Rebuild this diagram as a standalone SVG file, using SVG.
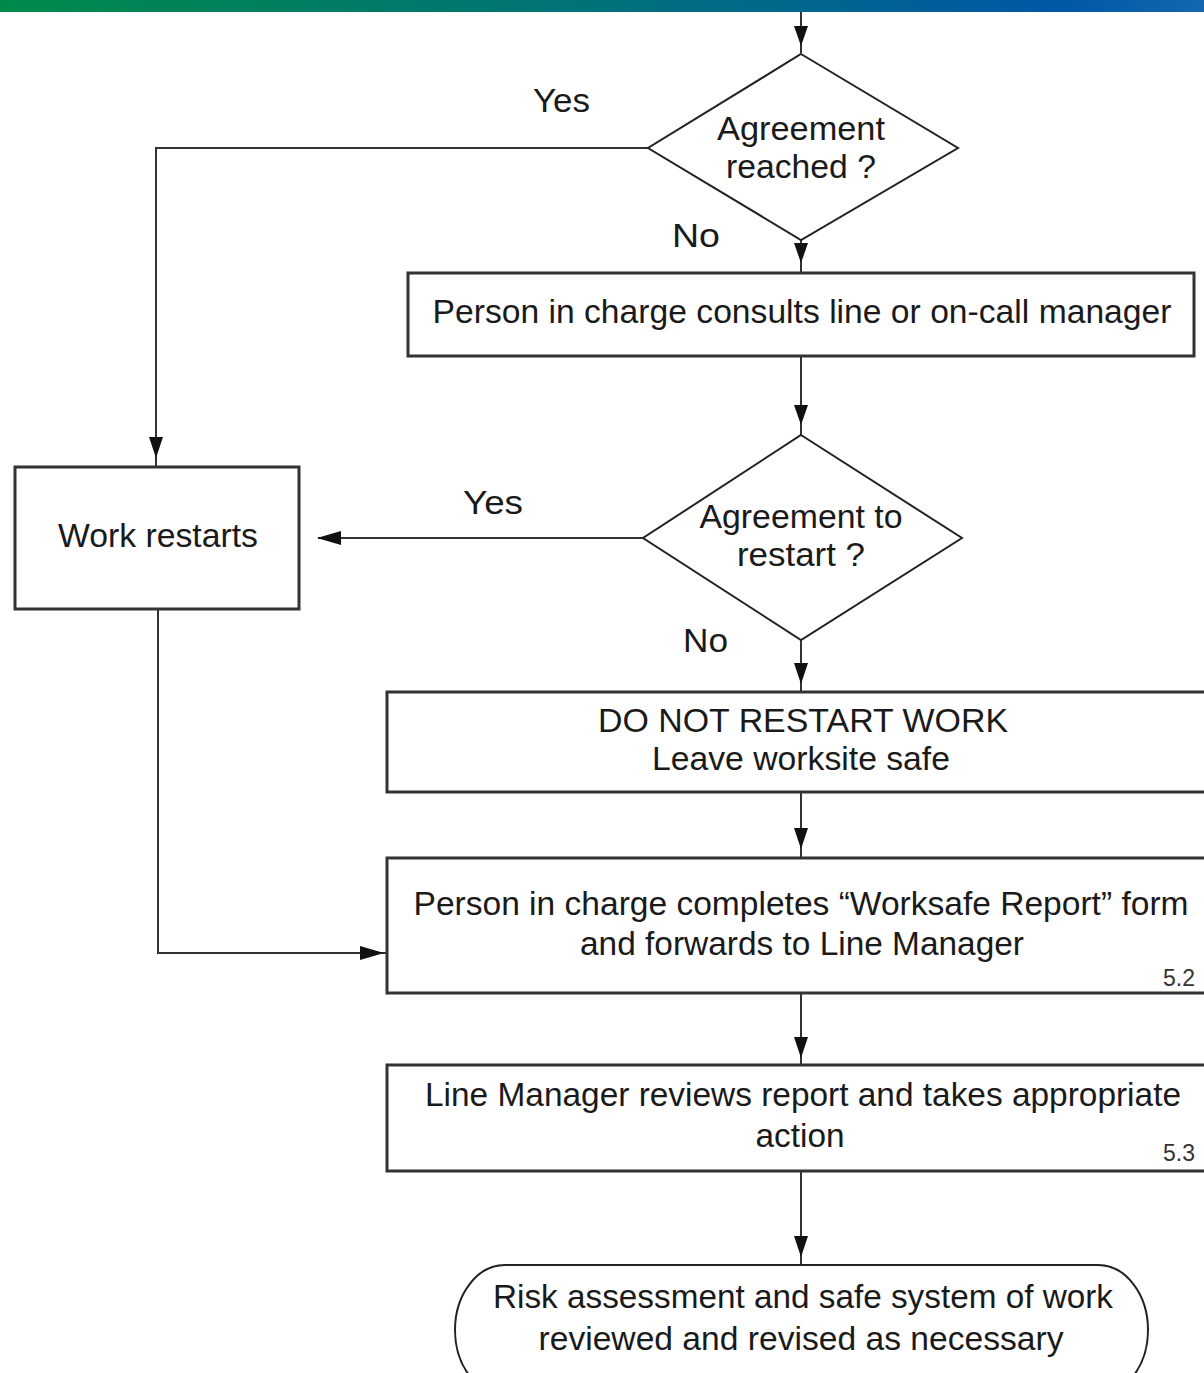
<svg xmlns="http://www.w3.org/2000/svg" width="1204" height="1373" viewBox="0 0 1204 1373">
<defs>
<linearGradient id="bar" x1="0" y1="0" x2="1" y2="0">
<stop offset="0" stop-color="#008A4A"/>
<stop offset="0.5" stop-color="#00727A"/>
<stop offset="0.88" stop-color="#0057A6"/>
<stop offset="1" stop-color="#1467B0"/>
</linearGradient>
<style>
.box{fill:#fff;stroke:#333;stroke-width:3}
.dia{fill:#fff;stroke:#222;stroke-width:2}
.ln{fill:none;stroke:#333;stroke-width:2}
.ah{fill:#111}
text{font-family:"Liberation Sans",Arial,sans-serif;font-size:33px;fill:#1a1a1a;text-anchor:middle}
.lbl{text-anchor:start}
.small{font-size:23px;text-anchor:start;fill:#333}
</style>
</defs>
<rect x="0" y="0" width="1204" height="12" fill="url(#bar)"/>

<g id="connectors">
<line class="ln" x1="801" y1="12" x2="801" y2="53"/>
<polygon class="ah" points="794,26 808,26 801,46"/>
<line class="ln" x1="801" y1="240" x2="801" y2="272"/>
<polygon class="ah" points="794,243 808,243 801,263"/>
<line class="ln" x1="801" y1="356" x2="801" y2="435"/>
<polygon class="ah" points="794,405 808,405 801,425"/>
<line class="ln" x1="801" y1="640" x2="801" y2="692"/>
<polygon class="ah" points="794,663 808,663 801,684"/>
<line class="ln" x1="801" y1="792" x2="801" y2="858"/>
<polygon class="ah" points="794,828 808,828 801,849"/>
<line class="ln" x1="801" y1="993" x2="801" y2="1065"/>
<polygon class="ah" points="794,1037 808,1037 801,1058"/>
<line class="ln" x1="801" y1="1171" x2="801" y2="1265"/>
<polygon class="ah" points="794,1236 808,1236 801,1257"/>
<polyline class="ln" points="648,148 156,148 156,467"/>
<polygon class="ah" points="149,437 163,437 156,458"/>
<line class="ln" x1="643" y1="538" x2="318" y2="538"/>
<polygon class="ah" points="317,538 341,531 341,545"/>
<polyline class="ln" points="158,609 158,953 387,953"/>
<polygon class="ah" points="384,953 360,946 360,960"/>
</g>

<text class="lbl" x="533" y="112" textLength="57" lengthAdjust="spacingAndGlyphs">Yes</text>
<text class="lbl" x="672" y="247" textLength="48" lengthAdjust="spacingAndGlyphs">No</text>
<text class="lbl" x="463" y="514" textLength="60" lengthAdjust="spacingAndGlyphs">Yes</text>
<text class="lbl" x="683" y="652" textLength="45" lengthAdjust="spacingAndGlyphs">No</text>

<g id="d1">
<polygon class="dia" points="801,54 958,148 801,240 648,148"/>
<text x="801" y="140" textLength="168" lengthAdjust="spacingAndGlyphs">Agreement</text>
<text x="801" y="178" textLength="150" lengthAdjust="spacingAndGlyphs">reached ?</text>
</g>

<g id="b1">
<rect class="box" x="408" y="273" width="786" height="83"/>
<text x="802" y="323" textLength="739" lengthAdjust="spacingAndGlyphs">Person in charge consults line or on-call manager</text>
</g>

<g id="d2">
<polygon class="dia" points="801,435 962,538 801,640 643,538"/>
<text x="801" y="528" textLength="203" lengthAdjust="spacingAndGlyphs">Agreement to</text>
<text x="801" y="566" textLength="128" lengthAdjust="spacingAndGlyphs">restart ?</text>
</g>

<g id="b_restart">
<rect class="box" x="15" y="467" width="284" height="142"/>
<text x="158" y="547" textLength="200" lengthAdjust="spacingAndGlyphs">Work restarts</text>
</g>

<g id="b2">
<rect class="box" x="387" y="692" width="830" height="100"/>
<text x="803" y="732" textLength="410" lengthAdjust="spacingAndGlyphs">DO NOT RESTART WORK</text>
<text x="801" y="770" textLength="298" lengthAdjust="spacingAndGlyphs">Leave worksite safe</text>
</g>

<g id="b3">
<rect class="box" x="387" y="858" width="830" height="135"/>
<text x="801" y="915" textLength="775" lengthAdjust="spacingAndGlyphs">Person in charge completes “Worksafe Report” form</text>
<text x="802" y="955" textLength="444" lengthAdjust="spacingAndGlyphs">and forwards to Line Manager</text>
<text class="small" x="1163" y="986">5.2</text>
</g>

<g id="b4">
<rect class="box" x="387" y="1065" width="830" height="106"/>
<text x="803" y="1106" textLength="756" lengthAdjust="spacingAndGlyphs">Line Manager reviews report and takes appropriate</text>
<text x="800" y="1147" textLength="89" lengthAdjust="spacingAndGlyphs">action</text>
<text class="small" x="1163" y="1161">5.3</text>
</g>

<g id="terminal">
<rect class="dia" x="455" y="1265" width="693" height="130" rx="50" ry="65"/>
<text x="803" y="1308" textLength="620" lengthAdjust="spacingAndGlyphs">Risk assessment and safe system of work</text>
<text x="801" y="1350" textLength="525" lengthAdjust="spacingAndGlyphs">reviewed and revised as necessary</text>
</g>
</svg>
